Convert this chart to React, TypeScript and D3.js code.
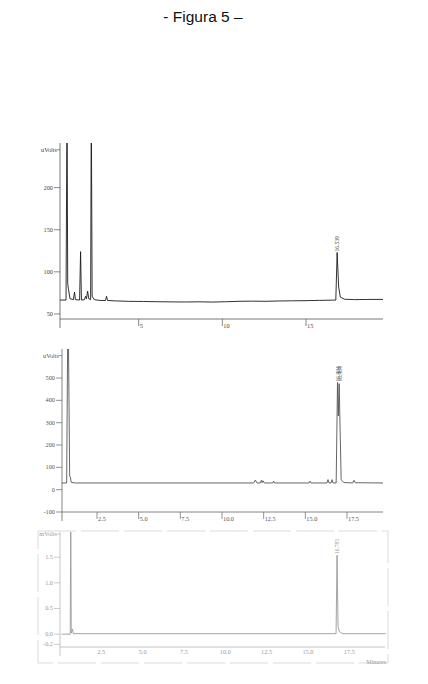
import { line, scaleLinear } from "d3";

const title = "- Figura 5 –";

// chart 1 — [minutes, uVolts]
const trace1: [number, number][] = [
  [0.3, 66.5], [0.66, 66.5], [0.72, 300], [0.76, 86], [0.8, 80], [0.9, 68], [1.1, 67],
  [1.17, 76], [1.22, 67], [1.47, 66.5], [1.53, 124], [1.58, 66.5], [1.76, 67], [1.83, 71],
  [1.88, 68], [1.95, 77], [2.02, 68], [2.13, 67], [2.17, 300], [2.22, 71], [2.35, 67],
  [2.7, 66], [3.02, 66], [3.08, 71], [3.14, 66], [3.6, 65.5], [4.4, 65], [5.3, 64.8],
  [6.2, 64.5], [7.0, 64.3], [7.8, 64.2], [8.6, 64.4], [9.4, 64.1], [10.2, 64.5],
  [11.0, 65], [11.8, 65.2], [12.6, 65], [13.4, 65.4], [14.2, 65.6], [15.0, 65.8],
  [15.8, 66.1], [16.6, 66.4], [16.78, 66.5], [16.86, 123], [16.95, 82], [17.05, 70],
  [17.3, 67.5], [17.9, 67], [18.6, 67.2], [19.6, 67.3],
];
const xTicks1 = [5, 10, 15];
const yTicks1 = [50, 100, 150, 200];
const peaks1 = [{ t: 16.86, v: 123, text: "16.539" }];

// chart 2 — [minutes, uVolts]
const trace2: [number, number][] = [
  [0.4, 30], [0.68, 30], [0.76, 900], [0.86, 60], [0.9, 58], [0.95, 33], [1.2, 30],
  [11.9, 30], [12.0, 43], [12.1, 30], [12.3, 30], [12.36, 42], [12.41, 31], [12.46, 40],
  [12.55, 30], [13.05, 30], [13.1, 38], [13.16, 30], [15.22, 30], [15.28, 38], [15.34, 30],
  [16.3, 30], [16.36, 45], [16.42, 30], [16.54, 30], [16.6, 45], [16.66, 30], [16.85, 30],
  [16.93, 480], [16.98, 330], [17.03, 475], [17.15, 45], [17.3, 32], [17.85, 30],
  [17.92, 42], [18.0, 31], [19.66, 30],
];
const xTicks2 = [2.5, 5.0, 7.5, 10.0, 12.5, 15.0, 17.5];
const yTicks2 = [-100, 0, 100, 200, 300, 400, 500];
const peaks2 = [
  { t: 16.93, v: 480, text: "16.904" },
  { t: 17.05, v: 480, text: "16.964" },
];

// chart 3 — [minutes, mVolts]
const trace3: [number, number][] = [
  [0.1, 0], [0.62, 0], [0.65, 2.5], [0.68, 0.02], [0.76, 0.1], [0.8, 0.01], [16.7, 0.01],
  [16.76, 1.54], [16.82, 0.15], [16.9, 0.05], [17.1, 0.01], [19.7, 0.01],
];
const xTicks3 = [2.5, 5.0, 7.5, 10.0, 12.5, 15.0, 17.5];
const yTicks3 = [-0.2, 0.0, 0.5, 1.0, 1.5];
const peaks3 = [{ t: 16.76, v: 1.54, text: "16.785" }];

type Peak = { t: number; v: number; text: string };

type ChartProps = {
  id: string;
  left: number;
  right: number;
  top: number;
  bottom: number;
  xDomain: [number, number];
  yDomain: [number, number];
  trace: [number, number][];
  xTicks: number[];
  yTicks: number[];
  xFormat: (d: number) => string;
  yFormat: (d: number) => string;
  unit: string;
  unitValue: number;
  peaks: Peak[];
  axisColor: string;
  textColor: string;
  lineColor: string;
  centeredX?: boolean;
};

const Chromatogram = (p: ChartProps) => {
  const x = scaleLinear().domain(p.xDomain).range([p.left, p.right]);
  const y = scaleLinear().domain(p.yDomain).range([p.bottom, p.top]);
  const path = line<[number, number]>()
    .x((d) => x(d[0]))
    .y((d) => y(d[1]))(p.trace);
  const font = "'Liberation Serif', 'DejaVu Serif', serif";

  return (
    <g fontFamily={font} fontSize={6.3} fill={p.textColor}>
      <clipPath id={p.id}>
        <rect x={p.left} y={p.top} width={p.right - p.left + 2} height={p.bottom - p.top} />
      </clipPath>
      <line x1={p.left} x2={p.left} y1={p.top} y2={p.bottom + 9} stroke={p.axisColor} strokeWidth={0.8} />
      <line x1={p.left} x2={p.right} y1={p.bottom} y2={p.bottom} stroke={p.axisColor} strokeWidth={0.8} />
      {p.yTicks.map((t) => (
        <g key={t}>
          <line x1={p.left - 6} x2={p.left} y1={y(t)} y2={y(t)} stroke={p.axisColor} strokeWidth={0.7} />
          <text x={p.left - 7} y={y(t) + 2} textAnchor="end">
            {p.yFormat(t)}
          </text>
        </g>
      ))}
      <line x1={p.left - 3} x2={p.left} y1={y(p.unitValue)} y2={y(p.unitValue)} stroke={p.axisColor} strokeWidth={0.7} />
      <text x={p.left - 3} y={y(p.unitValue) + 2} textAnchor="end">
        {p.unit}
      </text>
      {p.xTicks.map((t) =>
        p.centeredX ? (
          <text key={t} x={x(t)} y={p.bottom + 7} textAnchor="middle">
            {p.xFormat(t)}
          </text>
        ) : (
          <g key={t}>
            <line x1={x(t)} x2={x(t)} y1={p.bottom} y2={p.bottom + 7} stroke={p.axisColor} strokeWidth={0.7} />
            <text x={x(t) + 1} y={p.bottom + 9}>
              {p.xFormat(t)}
            </text>
          </g>
        )
      )}
      <path d={path!} fill="none" stroke={p.lineColor} strokeWidth={0.9} clipPath={`url(#${p.id})`} />
      {p.peaks.map((pk) => (
        <text
          key={pk.text}
          transform={`translate(${x(pk.t) + 2},${y(pk.v) - 1}) rotate(-90)`}
          fontSize={5.5}
        >
          {pk.text}
        </text>
      ))}
    </g>
  );
};

export default function App() {
  return (
    <div style={{ position: "absolute", left: 0, top: 0 }}>
      <svg width={428} height={684} style={{ display: "block", background: "#fff" }}>
        <text
          x={203}
          y={21.5}
          textAnchor="middle"
          fontFamily="'Liberation Sans', Arial, sans-serif"
          fontSize={15.5}
          fill="#111"
        >
          {title}
        </text>

        <Chromatogram
          id="c1"
          left={60}
          right={383}
          top={143}
          bottom={319}
          xDomain={[0.3, 19.6]}
          yDomain={[44, 253]}
          trace={trace1}
          xTicks={xTicks1}
          yTicks={yTicks1}
          xFormat={(d) => String(d)}
          yFormat={(d) => String(d)}
          unit="uVolts"
          unitValue={245}
          peaks={peaks1}
          axisColor="#555"
          textColor="#444"
          lineColor="#1a1a1a"
        />

        <Chromatogram
          id="c2"
          left={62}
          right={383}
          top={349}
          bottom={512}
          xDomain={[0.4, 19.66]}
          yDomain={[-100, 630]}
          trace={trace2}
          xTicks={xTicks2}
          yTicks={yTicks2}
          xFormat={(d) => d.toFixed(1)}
          yFormat={(d) => String(d)}
          unit="uVolts"
          unitValue={600}
          peaks={peaks2}
          axisColor="#666"
          textColor="#555"
          lineColor="#555"
        />

        <rect x={38} y={531} width={350} height={132} fill="none" stroke="#d2d2d2" strokeWidth={0.8} strokeDasharray="38 5" />
        <Chromatogram
          id="c3"
          left={60}
          right={385}
          top={532}
          bottom={647}
          xDomain={[0, 19.66]}
          yDomain={[-0.25, 1.99]}
          trace={trace3}
          xTicks={xTicks3}
          yTicks={yTicks3}
          xFormat={(d) => d.toFixed(1)}
          yFormat={(d) => d.toFixed(1)}
          unit="mVolts"
          unitValue={1.95}
          peaks={peaks3}
          axisColor="#b5b5b5"
          textColor="#9a9a9a"
          lineColor="#9a9a9a"
          centeredX
        />
        <text
          x={386}
          y={664}
          textAnchor="end"
          fontFamily="'Liberation Serif', serif"
          fontSize={6}
          fill="#9a9a9a"
        >
          Minutes
        </text>
      </svg>
    </div>
  );
}
